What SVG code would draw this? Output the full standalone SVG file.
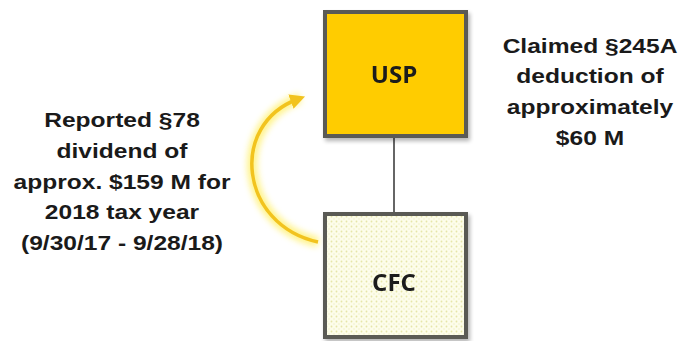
<svg xmlns="http://www.w3.org/2000/svg" width="681" height="341" viewBox="0 0 681 341">
<style>
.lbl{font-family:"Liberation Sans",Arial,sans-serif;font-weight:bold;font-size:21px;fill:#1a1a1a;text-anchor:middle}
.box{stroke:#5a5a55;stroke-width:4}
.name{font-family:"Open Sans","Liberation Sans",sans-serif;font-weight:bold;font-size:24px;fill:#1a1a1a;text-anchor:middle}
</style>
<defs>
<pattern id="dots" width="5" height="5" patternUnits="userSpaceOnUse">
<rect width="5" height="5" fill="#fdfdea"/>
<circle cx="1.5" cy="1.5" r="0.9" fill="#e6e6a8"/>
<circle cx="4" cy="4" r="0.7" fill="#efefc4"/>
</pattern>
<filter id="glow" x="-50%" y="-50%" width="200%" height="200%">
<feGaussianBlur stdDeviation="3"/>
</filter>
<filter id="shadow" x="-10%" y="-10%" width="130%" height="130%">
<feGaussianBlur in="SourceAlpha" stdDeviation="2"/>
<feOffset dx="2" dy="3"/>
<feComponentTransfer><feFuncA type="linear" slope="0.3"/></feComponentTransfer>
<feMerge><feMergeNode/><feMergeNode in="SourceGraphic"/></feMerge>
</filter>
<marker id="head" viewBox="0 0 10 10" refX="5" refY="5" markerWidth="4.3" markerHeight="4.3" orient="auto" markerUnits="strokeWidth">
<path d="M0,0 L10,5 L0,10 Z" fill="#f2c31e"/>
</marker>
</defs>
<rect width="681" height="341" fill="#ffffff"/>
<g id="connectors">
<line x1="394" y1="138" x2="394" y2="212" stroke="#333333" stroke-width="1.5"/>
<g id="arrow">
<path d="M318,242 C240,225 228,125 300,98" fill="none" stroke="#fff27a" stroke-width="10" filter="url(#glow)" opacity="0.9"/>
<path d="M318,242 C240,225 228,125 298,99" fill="none" stroke="#f2c31e" stroke-width="3.5" marker-end="url(#head)"/>
</g>
</g>
<g id="usp" filter="url(#shadow)">
<rect class="box" x="325" y="12" width="141" height="124" fill="#ffcc00"/>
<text class="name" x="394" y="83">USP</text>
</g>
<g id="cfc" filter="url(#shadow)">
<rect class="box" x="325" y="214" width="141" height="123" fill="url(#dots)"/>
<text class="name" x="394" y="291">CFC</text>
</g>
<g id="left-label" transform="translate(122,0) scale(1.17,1)">
<text class="lbl" x="0" y="127">Reported §78</text>
<text class="lbl" x="0" y="158">dividend of</text>
<text class="lbl" x="0" y="189">approx. $159 M for</text>
<text class="lbl" x="0" y="219">2018 tax year</text>
<text class="lbl" x="0" y="250">(9/30/17 - 9/28/18)</text>
</g>
<g id="right-label" transform="translate(590,0) scale(1.17,1)">
<text class="lbl" x="0" y="53">Claimed §245A</text>
<text class="lbl" x="0" y="83">deduction of</text>
<text class="lbl" x="0" y="114">approximately</text>
<text class="lbl" x="0" y="145">$60 M</text>
</g>
</svg>
